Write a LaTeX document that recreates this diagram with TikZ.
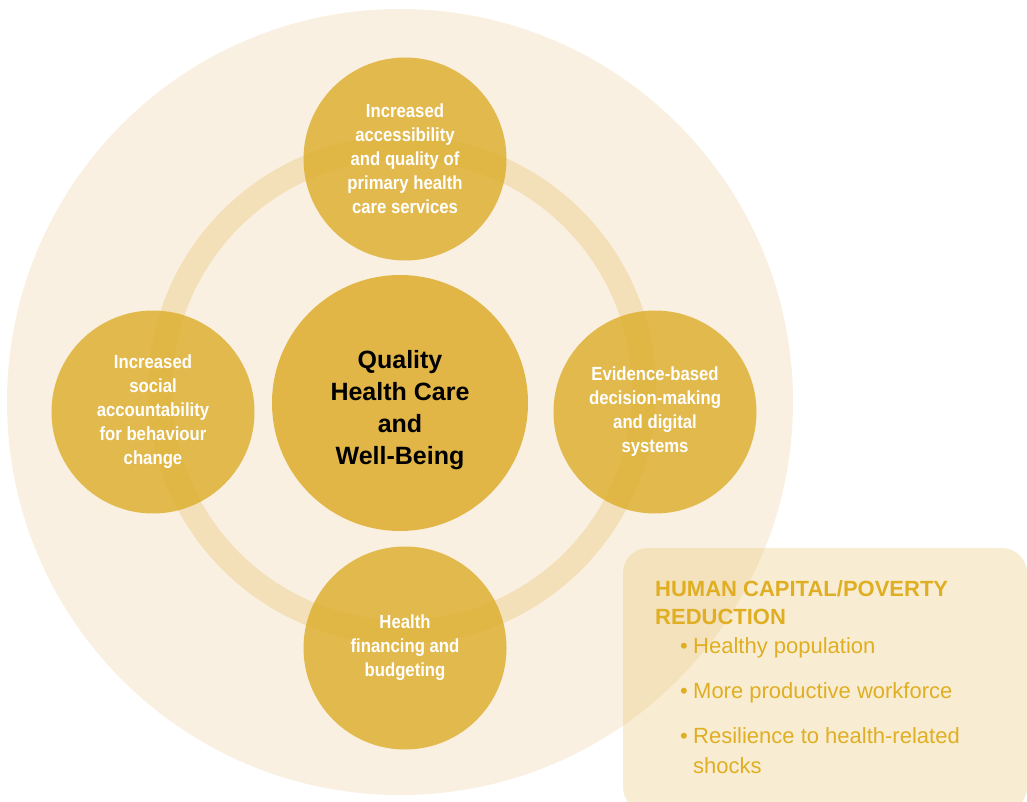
\documentclass[tikz,border=0pt]{standalone}
\usepackage{fontspec}
\setmainfont{Liberation Sans}
\newfontfamily\narrowfont{Liberation Sans}[FakeStretch=0.88]
\usetikzlibrary{positioning}
\definecolor{halo}{HTML}{FAF0E1}
\definecolor{ringcol}{HTML}{F3E0B8}
\definecolor{pillargold}{HTML}{DDAD2C}
\definecolor{boxgold}{HTML}{E5BD59}
\definecolor{textgold}{HTML}{E0AE22}
\tikzset{
	pillar/.style={circle, fill=pillargold, fill opacity=0.82, text opacity=1, text=white,
		minimum size=203pt, inner sep=0pt, align=center,
		font=\narrowfont\bfseries\fontsize{19}{24}\selectfont},
	hub/.style={circle, fill=pillargold, fill opacity=0.85, minimum size=256pt, inner sep=0pt},
	hubtext/.style={align=center, text=black, font=\bfseries\fontsize{25}{32}\selectfont},
	outtext/.style={anchor=base west, inner sep=0pt, text=textgold, align=left,
		font=\fontsize{22}{30}\selectfont}
}
\begin{document}
\begin{tikzpicture}[x=1pt,y=-1pt]
	\useasboundingbox (0,0) rectangle (1027,802);
	\fill[halo] (400,402) circle (393pt);
	\draw[ringcol, line width=24pt] (402,390) circle (242pt);
	\node[pillar] (access) at (405,159) {Increased\\accessibility\\and quality of\\primary health\\care services};
	\node[pillar] (social) at (153,412) {Increased\\social\\accountability\\for behaviour\\change};
	\node[pillar] (evidence) at (655,412) {Evidence-based\\decision-making\\and digital\\systems};
	\node[pillar] (finance) at (405,648) {Health\\financing and\\budgeting};
	\node[hub] (hub) at (400,403) {};
	\node[hubtext, yshift=-7pt] (hubtext) at (hub.center) {Quality\\Health Care\\and\\Well-Being};
	% outcome box
	\fill[boxgold, fill opacity=0.27, rounded corners=25pt] (623,548) rectangle (1027,812);
	\node[outtext, font=\bfseries\fontsize{22}{28}\selectfont] (goal) at (655,624) {HUMAN CAPITAL/POVERTY\\REDUCTION};
	\node[outtext] (pop) at (680,653) {\makebox[13pt][l]{\textbullet}Healthy population};
	\node[outtext] (work) at (680,698) {\makebox[13pt][l]{\textbullet}More productive workforce};
	\node[outtext] (shock) at (680,773) {\makebox[13pt][l]{\textbullet}Resilience to health-related\\\hspace*{13pt}shocks};
\end{tikzpicture}
\end{document}
